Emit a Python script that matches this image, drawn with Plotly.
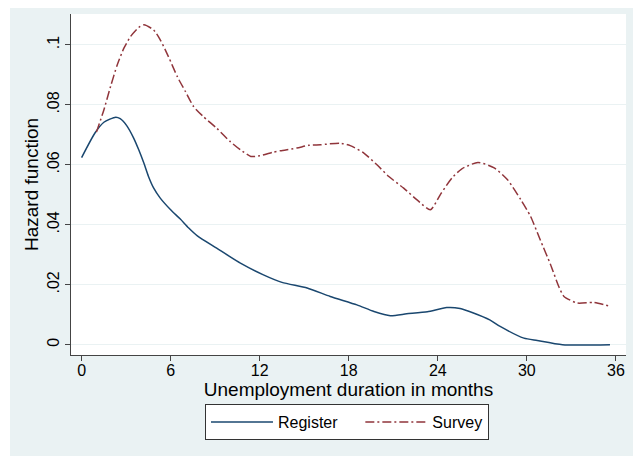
import plotly.graph_objects as go

# smoothed hazard estimates
register_months = [0.0, 0.9, 1.5, 2.3, 2.6, 3.05, 3.5, 3.85, 4.2, 4.5, 4.85, 5.3,
                   6.0, 6.65, 7.2, 7.8, 9.1, 10.7, 12.25, 13.5, 15.2, 16.75,
                   18.55, 19.7, 20.8, 21.9, 23.3, 24.6, 25.5, 26.4, 27.5, 28.2,
                   29.8, 30.7, 32.4, 35.6]
register_hazard = [0.0624, 0.0706, 0.0742, 0.0759, 0.0754, 0.0730, 0.0690, 0.0650,
                   0.0605, 0.0562, 0.0523, 0.0489, 0.0450, 0.0419, 0.0390, 0.0363,
                   0.0322, 0.0272, 0.0233, 0.0208, 0.0189, 0.0161, 0.0133, 0.0111,
                   0.0097, 0.0103, 0.0110, 0.0124, 0.0121, 0.0106, 0.0083, 0.0061,
                   0.0022, 0.0014, 0.0, 0.0]

survey_months = [1.0, 1.5, 1.95, 2.4, 2.85, 3.3, 3.85, 4.2, 4.85, 5.3, 5.85, 6.45,
                 7.0, 7.55, 8.2, 9.1, 10.0, 10.7, 11.4, 12.0, 12.9, 13.4, 14.5,
                 15.3, 16.1, 17.4, 18.1, 19.0, 19.9, 20.7, 21.7, 22.6, 23.5, 24.2,
                 24.95, 25.6, 26.7, 27.8, 28.7, 29.6, 30.25, 30.9, 31.6, 32.15,
                 32.5, 33.4, 34.5, 35.6]
survey_hazard = [0.0709, 0.0783, 0.0861, 0.0933, 0.0989, 0.1028, 0.1058, 0.1067,
                 0.1050, 0.1017, 0.0961, 0.0894, 0.0844, 0.0794, 0.0761, 0.0722,
                 0.0678, 0.0650, 0.0628, 0.0630, 0.0642, 0.0647, 0.0656, 0.0665,
                 0.0667, 0.0672, 0.0664, 0.0640, 0.0600, 0.0561, 0.0522, 0.0483,
                 0.0450, 0.0503, 0.0556, 0.0586, 0.0608, 0.0590, 0.0550, 0.0483,
                 0.0428, 0.0350, 0.0267, 0.0194, 0.0161, 0.0139, 0.0141, 0.0128]

x_ticks = [0, 6, 12, 18, 24, 30, 36]
y_ticks = [0, 0.02, 0.04, 0.06, 0.08, 0.1]
y_labels = ["0", ".02", ".04", ".06", ".08", ".1"]

BG = "#EAF2F3"
FONT = "Liberation Sans, Arial, sans-serif"

fig = go.Figure()
# trailing no-break spaces widen the first legend entry like the original
fig.add_trace(go.Scatter(x=register_months, y=register_hazard,
                         name="Register\u00a0\u00a0\u00a0\u00a0",
                         mode="lines",
                         line=dict(color="#1A476F", width=1.5,
                                   shape="spline", smoothing=0.6)))
fig.add_trace(go.Scatter(x=survey_months, y=survey_hazard, name="Survey",
                         mode="lines",
                         line=dict(color="#90353B", width=1.5,
                                   shape="spline", smoothing=0.6,
                                   dash="9px,3px,2px,3px")))

# the page body adds an 8px white border, so the figure is 8px smaller
fig.update_layout(
    width=633, height=448,
    margin=dict(l=63, r=15, t=6, b=101),
    paper_bgcolor=BG,
    plot_bgcolor="white",
    font=dict(family=FONT, size=16, color="black"),
    legend=dict(orientation="h", x=0.2414, xanchor="left", y=-0.1965,
                yanchor="middle", bgcolor="white", bordercolor="#333",
                borderwidth=1, itemwidth=62,
                font=dict(size=16)),
)
fig.update_xaxes(range=[-0.714, 36.68], tickvals=x_ticks, ticks="outside",
                 ticklen=5, tickcolor="#444", showline=True, linecolor="#444",
                 linewidth=1, showgrid=False, zeroline=False, automargin=False,
                 ticklabelstandoff=-4,
                 title=dict(text="Unemployment duration in months", standoff=3))
fig.update_yaxes(range=[-0.00343, 0.1103], tickvals=y_ticks, ticktext=y_labels,
                 tickangle=-90, ticks="outside", ticklen=5, tickcolor="#444",
                 showline=True, linecolor="#444", linewidth=1,
                 showgrid=True, gridcolor=BG, gridwidth=1, zeroline=False,
                 ticklabelstandoff=0, automargin=False,
                 title=dict(text="Hazard function", standoff=0))

# thin white strip at the left edge of the picture
fig.add_shape(type="rect", xref="paper", yref="paper", x0=-0.1135, x1=-0.1099,
              y0=-0.2962, y1=1.0176, fillcolor="white", line_width=0)

fig.write_html("out.html")
